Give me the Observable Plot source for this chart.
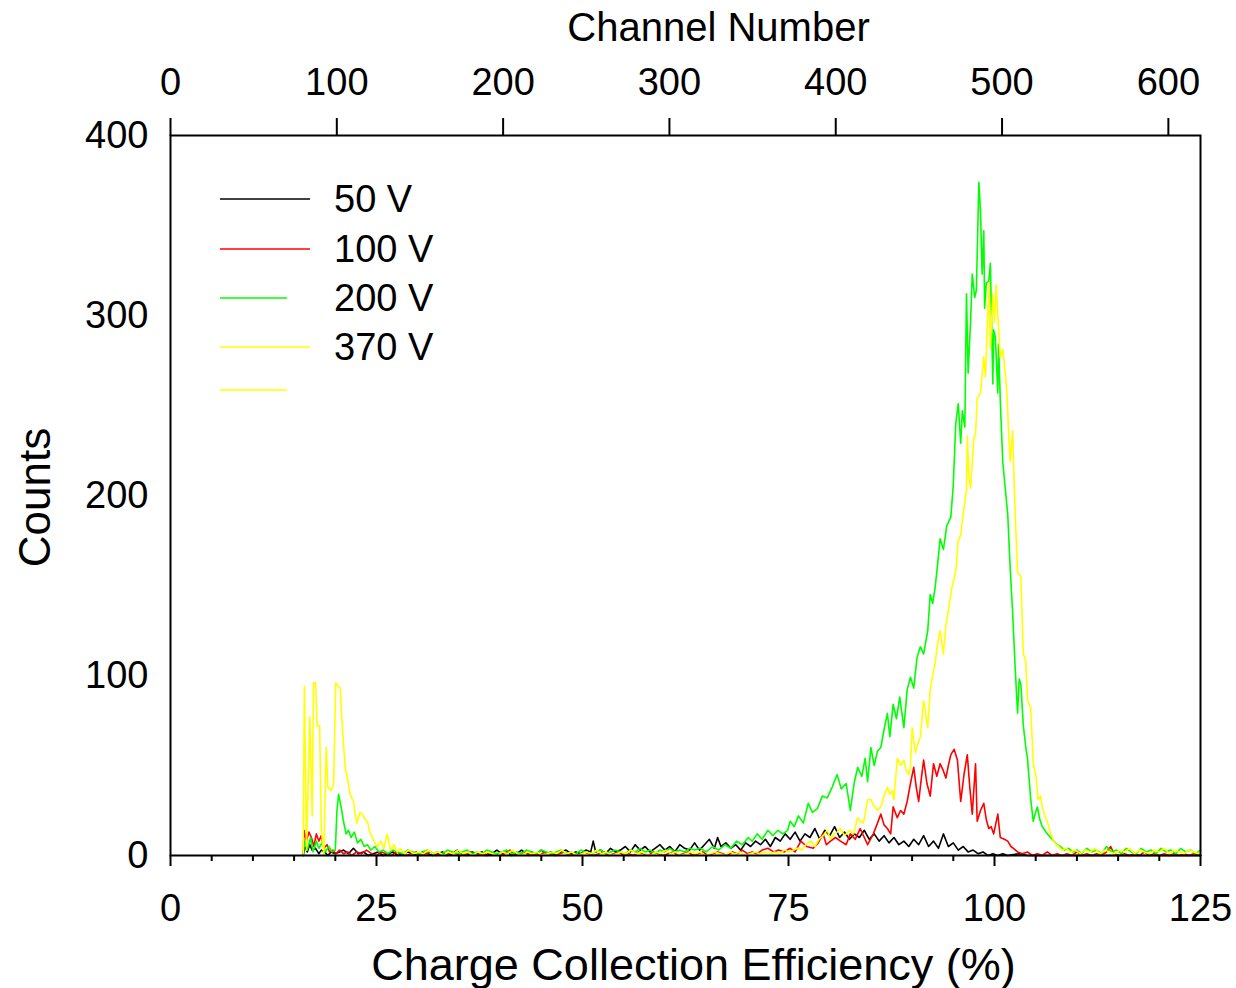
<!DOCTYPE html>
<html>
<head>
<meta charset="utf-8">
<script src="https://cdn.jsdelivr.net/npm/d3@7"></script>
<script src="https://cdn.jsdelivr.net/npm/@observablehq/plot@0.6"></script>
<style>
  html, body { margin: 0; padding: 0; background: #fff; }
  #chart { position: relative; width: 1236px; height: 988px; overflow: hidden; }
</style>
</head>
<body>
<div id="chart"></div>
<script>
// ---- data: [charge collection efficiency %, counts] ----
const series50V = [[16.1,0],[16.3,5],[16.6,2],[16.9,6],[17.2,3],[17.6,4],[18.0,1],[18.3,3],[18.7,2],[19.1,0],[19.5,2],[20.0,1],[20.5,2],[21.0,3],[21.6,1],[22.2,4],[22.8,1],[23.4,2],[24.0,0],[24.6,1],[25.2,2],[25.8,0],[26.4,1],[27.0,2],[27.6,0],[28.2,1],[28.8,2],[29.4,1],[30.0,0],[30.6,2],[31.2,1],[31.8,0],[32.4,1],[33.0,2],[33.6,0],[34.2,1],[34.8,3],[35.4,1],[36.0,0],[36.6,2],[37.2,1],[37.8,2],[38.4,0],[39.0,1],[39.6,3],[40.2,1],[40.8,2],[41.4,0],[42.0,1],[42.6,3],[43.2,1],[43.8,2],[44.4,1],[45.0,3],[45.6,1],[46.2,2],[46.8,0],[47.4,2],[48.0,3],[48.6,1],[49.2,2],[49.8,1],[50.4,3],[51.0,2],[51.3,8],[51.6,2],[52.2,3],[52.8,1],[53.4,4],[54.0,2],[54.6,3],[55.2,5],[55.8,2],[56.4,6],[57.0,3],[57.6,5],[58.2,2],[58.8,4],[59.4,6],[60.0,3],[60.6,5],[61.2,2],[61.8,6],[62.4,4],[63.0,3],[63.6,7],[64.2,3],[64.8,6],[65.4,9],[66.0,4],[66.4,10],[66.8,5],[67.4,7],[68.0,4],[68.6,6],[69.2,3],[69.8,7],[70.4,5],[71.0,8],[71.6,6],[72.2,9],[72.8,5],[73.4,10],[74.0,8],[74.6,12],[75.2,9],[75.8,13],[76.4,8],[77.0,12],[77.6,10],[78.2,15],[78.8,9],[79.4,14],[80.0,11],[80.6,16],[81.2,10],[81.8,13],[82.4,9],[83.0,12],[83.6,10],[84.2,14],[84.8,9],[85.4,12],[86.0,8],[86.6,11],[87.2,7],[87.8,10],[88.4,6],[89.0,8],[89.6,5],[90.2,9],[90.8,6],[91.4,11],[92.0,5],[92.6,8],[93.2,4],[93.8,12],[94.4,5],[95.0,7],[95.6,3],[96.2,5],[96.8,2],[97.4,3],[98.0,1],[98.6,2],[99.2,0],[99.8,1],[100.4,0],[101.0,1],[101.6,0],[103.0,1],[104.0,0],[110.0,0],[125.0,0]];

const series100V = [[16.1,0],[16.2,14],[16.5,8],[16.8,13],[17.1,10],[17.4,5],[17.7,12],[18.0,8],[18.3,11],[18.6,4],[19.0,6],[19.3,2],[19.7,3],[20.1,1],[20.5,3],[21.0,1],[21.5,2],[22.0,0],[22.6,2],[23.2,1],[23.8,3],[24.4,1],[25.0,0],[25.6,2],[26.2,1],[26.8,0],[27.4,2],[28.0,1],[28.6,0],[29.2,1],[29.8,2],[30.4,0],[31.0,1],[31.6,2],[32.2,0],[32.8,1],[33.4,0],[34.0,2],[34.6,1],[35.2,0],[35.8,1],[36.4,2],[37.0,0],[37.6,1],[38.2,0],[38.8,2],[39.4,1],[40.0,0],[40.6,1],[41.2,3],[41.8,0],[42.4,1],[43.0,2],[43.6,0],[44.2,1],[44.8,0],[45.4,2],[46.0,1],[46.6,0],[47.2,1],[47.8,2],[48.4,0],[49.0,1],[49.6,0],[50.2,2],[50.8,1],[51.4,0],[52.0,1],[52.6,2],[53.2,0],[53.8,1],[54.4,2],[55.0,0],[55.6,1],[56.2,0],[56.8,2],[57.4,1],[58.0,0],[58.6,2],[59.2,1],[59.8,0],[60.4,1],[61.0,2],[61.6,0],[62.2,1],[62.8,2],[63.4,0],[64.0,1],[64.6,2],[65.2,0],[65.8,1],[66.4,2],[67.0,1],[67.6,0],[68.2,2],[68.8,1],[69.4,3],[70.0,1],[70.6,2],[71.2,1],[71.8,3],[72.5,4],[73.2,2],[73.8,3],[74.5,2],[75.2,4],[75.8,2],[76.5,8],[77.2,5],[78.0,4],[78.6,7],[79.2,12],[79.6,6],[80.1,8],[80.7,10],[81.3,8],[82.0,6],[82.5,12],[83.1,9],[83.7,15],[84.2,10],[84.6,6],[85.3,12],[85.8,18],[86.2,23],[86.6,17],[87.0,15],[87.4,12],[87.7,27],[88.2,21],[88.6,25],[89.0,23],[89.4,30],[89.8,40],[90.2,49],[90.5,38],[90.8,30],[91.1,42],[91.4,53],[91.8,40],[92.2,33],[92.6,51],[93.0,44],[93.4,51],[93.8,47],[94.1,43],[94.4,50],[94.7,56],[95.1,59],[95.5,53],[95.9,30],[96.3,45],[96.7,56],[97.0,38],[97.3,23],[97.7,51],[97.9,19],[98.3,25],[98.7,29],[99.0,20],[99.3,15],[99.6,16],[99.9,12],[100.4,23],[100.7,10],[101.2,9],[101.6,8],[102.0,5],[102.3,4],[102.8,2],[103.4,1],[104.0,2],[104.6,0],[105.2,1],[105.8,0],[106.4,2],[107.0,0],[107.6,1],[108.2,0],[108.8,1],[109.4,0],[110.0,2],[110.6,0],[111.2,1],[111.8,0],[112.4,1],[113.0,0],[113.6,2],[114.1,5],[114.5,1],[115.2,0],[115.8,1],[116.4,0],[117.0,1],[117.6,0],[118.2,2],[118.8,0],[119.4,1],[120.0,0],[120.6,1],[121.2,0],[121.8,1],[122.4,0],[123.0,1],[123.6,0],[124.2,1],[125.0,0]];

const series200V = [[16.1,0],[16.3,8],[16.6,3],[17.0,10],[17.3,2],[17.7,8],[18.0,4],[18.4,7],[18.8,2],[19.2,5],[19.6,2],[20.0,3],[20.2,25],[20.4,34],[20.7,27],[21.0,19],[21.3,12],[21.6,14],[21.9,10],[22.3,13],[22.7,7],[23.1,9],[23.5,5],[23.9,6],[24.3,3],[24.8,5],[25.3,2],[25.8,3],[26.4,1],[27.0,3],[27.6,2],[28.2,1],[28.8,3],[29.4,2],[30.0,1],[30.6,2],[31.2,3],[31.8,1],[32.4,2],[33.0,1],[33.6,3],[34.2,2],[34.8,1],[35.4,2],[36.0,3],[36.6,1],[37.2,2],[37.8,1],[38.4,3],[39.0,2],[39.6,1],[40.2,2],[40.8,3],[41.4,1],[42.0,2],[42.6,1],[43.2,3],[43.8,2],[44.4,1],[45.0,3],[45.6,2],[46.2,1],[46.8,2],[47.4,3],[48.0,1],[48.6,2],[49.2,1],[49.8,3],[50.4,2],[51.0,1],[51.6,2],[52.2,3],[52.8,1],[53.4,2],[54.0,3],[54.6,2],[55.2,1],[55.8,3],[56.4,2],[57.0,4],[57.6,2],[58.2,3],[58.8,1],[59.4,3],[60.0,2],[60.6,4],[61.2,2],[61.8,3],[62.4,2],[63.0,4],[63.6,3],[64.3,4],[65.0,2],[65.8,5],[66.5,3],[67.3,6],[68.0,4],[68.7,8],[69.4,6],[70.1,10],[70.6,8],[71.2,12],[71.8,9],[72.5,14],[73.1,11],[73.7,14],[74.3,12],[74.9,14],[75.2,19],[75.7,16],[76.2,22],[76.8,18],[77.4,29],[77.9,24],[78.5,26],[79.1,33],[79.7,32],[80.3,38],[80.9,45],[81.4,37],[82.0,40],[82.5,25],[83.0,41],[83.4,49],[83.9,44],[84.3,54],[84.6,41],[85.0,60],[85.4,50],[85.8,58],[86.2,60],[86.6,70],[87.0,79],[87.3,66],[87.7,84],[88.1,76],[88.5,88],[89.0,71],[89.4,92],[89.8,99],[90.2,93],[90.6,110],[91.0,116],[91.4,112],[91.9,125],[92.2,145],[92.5,140],[92.8,149],[93.1,162],[93.4,176],[93.8,170],[94.2,183],[94.7,188],[95.0,206],[95.3,240],[95.6,251],[95.9,229],[96.1,247],[96.4,238],[96.6,312],[96.8,268],[97.1,297],[97.3,323],[97.6,310],[97.8,314],[98.1,374],[98.3,358],[98.5,323],[98.7,347],[98.8,304],[99.0,318],[99.3,319],[99.5,329],[99.8,262],[99.9,292],[100.1,288],[100.4,257],[100.5,284],[100.7,253],[101.0,219],[101.3,204],[101.6,190],[101.9,160],[102.2,135],[102.5,105],[102.8,79],[103.0,98],[103.2,95],[103.5,72],[103.8,60],[104.0,54],[104.4,31],[104.7,19],[105.0,24],[105.2,27],[105.5,20],[105.8,16],[106.1,14],[106.4,12],[106.8,10],[107.2,8],[107.6,6],[108.0,5],[108.5,3],[109.0,4],[109.5,2],[110.0,3],[110.6,1],[111.2,4],[111.8,2],[112.4,3],[113.0,1],[113.6,5],[114.2,2],[114.8,3],[115.4,1],[116.0,4],[116.6,2],[117.2,1],[117.8,4],[118.4,2],[119.0,3],[119.6,1],[120.2,4],[120.8,2],[121.4,3],[122.0,1],[122.6,4],[123.2,2],[123.8,3],[124.4,1],[125.0,3]];

const series370V = [[16.1,1],[16.25,94],[16.5,3],[16.9,77],[17.2,22],[17.35,96],[17.6,96],[17.8,72],[18.1,72],[18.3,15],[18.6,0],[18.9,60],[19.1,38],[19.5,36],[19.8,40],[20.05,96],[20.4,94],[20.6,93],[20.9,68],[21.2,49],[21.5,42],[21.8,34],[22.2,30],[22.6,18],[23.0,24],[23.3,23],[23.6,20],[23.9,19],[24.2,13],[24.5,10],[24.8,7],[25.1,5],[25.5,8],[25.9,4],[26.3,12],[26.7,3],[27.1,6],[27.5,2],[27.9,4],[28.4,1],[28.9,3],[29.5,1],[30.1,2],[30.7,1],[31.3,3],[31.9,1],[32.5,2],[33.1,0],[33.7,2],[34.3,1],[34.9,3],[35.5,1],[36.1,2],[36.7,0],[37.3,2],[37.9,1],[38.5,2],[39.1,1],[39.7,0],[40.3,2],[40.9,1],[41.5,3],[42.1,1],[42.7,0],[43.3,2],[43.9,1],[44.5,2],[45.1,0],[45.7,1],[46.3,2],[46.9,1],[47.5,3],[48.1,1],[48.7,2],[49.3,0],[49.9,1],[50.5,2],[51.1,1],[51.7,3],[52.3,1],[52.9,2],[53.5,0],[54.1,1],[54.7,2],[55.3,1],[55.9,3],[56.5,1],[57.1,2],[57.7,1],[58.3,0],[58.9,2],[59.5,1],[60.1,3],[60.7,1],[61.3,2],[61.9,0],[62.5,1],[63.1,2],[63.7,1],[64.3,2],[64.9,0],[65.5,1],[66.1,2],[66.7,1],[67.3,0],[67.9,2],[68.5,1],[69.1,2],[69.7,0],[70.3,1],[70.9,2],[71.5,1],[72.1,2],[72.7,1],[73.3,2],[73.9,1],[74.5,3],[75.1,2],[75.6,3],[76.1,4],[76.6,3],[77.1,6],[77.7,8],[78.2,5],[78.7,9],[79.2,11],[79.7,14],[80.1,9],[80.5,12],[80.9,13],[81.3,15],[81.8,11],[82.4,14],[82.9,12],[83.4,21],[83.7,19],[84.1,18],[84.6,31],[85.0,31],[85.3,28],[85.8,25],[86.2,27],[86.6,33],[87.0,38],[87.3,34],[87.6,36],[87.8,31],[88.2,54],[88.6,50],[89.0,53],[89.3,47],[89.6,45],[89.8,49],[90.0,71],[90.4,57],[90.7,62],[91.0,66],[91.4,86],[91.9,71],[92.2,92],[92.5,100],[92.8,107],[93.1,118],[93.4,125],[93.8,112],[94.1,128],[94.4,136],[94.8,148],[95.3,158],[95.6,175],[95.9,178],[96.2,190],[96.6,203],[96.7,233],[96.9,210],[97.1,204],[97.5,232],[97.7,234],[97.9,254],[98.3,257],[98.7,277],[98.9,266],[99.2,303],[99.3,318],[99.5,282],[99.8,312],[100.0,296],[100.2,317],[100.5,292],[100.7,277],[101.0,281],[101.2,273],[101.5,258],[101.7,236],[101.9,219],[102.2,236],[102.4,204],[102.6,180],[102.8,157],[103.2,155],[103.5,112],[103.8,108],[104.0,86],[104.4,82],[104.7,51],[105.0,45],[105.3,31],[105.6,33],[105.8,27],[106.1,22],[106.4,19],[106.8,12],[107.2,8],[107.5,6],[107.8,5],[108.2,3],[108.7,4],[109.2,2],[109.8,3],[110.4,1],[111.0,3],[111.6,2],[112.2,4],[112.8,1],[113.4,3],[114.0,2],[114.6,1],[115.2,3],[115.8,2],[116.4,4],[117.0,1],[117.6,3],[118.2,2],[118.8,1],[119.4,3],[120.0,2],[120.6,4],[121.2,1],[121.8,3],[122.4,2],[123.0,1],[123.6,3],[124.2,2],[124.8,1],[125.0,2]];

const seriesNames  = ["50 V", "100 V", "200 V", "370 V"];
const seriesColors = ["#000000", "#ff0000", "#00ff00", "#ffff00"];
const seriesData   = [series50V, series100V, series200V, series370V];

const xMajorTicks  = [0, 25, 50, 75, 100, 125];
const xMinorTicks  = [5,10,15,20,30,35,40,45,55,60,65,70,80,85,90,95,105,110,115,120];
const yTicks       = [0, 100, 200, 300, 400];
const channelTicks = [0, 100, 200, 300, 400, 500, 600];
const channelsPerPercent = 600 / 121.1;

const xTitle = "Charge Collection Efficiency (%)";
const yTitle = "Counts";
const topTitle = "Channel Number";

// ---- build table ----
const table = seriesData.flatMap((pts, i) =>
  pts.map(([x, y]) => ({ x, y, series: seriesNames[i] })));

const font = "'Liberation Sans', Arial, Helvetica, sans-serif";

const chart = Plot.plot({
  width: 1236,
  height: 988,
  marginLeft: 170,
  marginRight: 36,
  marginTop: 135,
  marginBottom: 133,
  style: { fontFamily: font, fontSize: "38px", background: "white", color: "black", overflow: "visible" },
  x: { domain: [0, 125] },
  y: { domain: [0, 400] },
  color: { domain: seriesNames, range: seriesColors },
  marks: [
    Plot.line(table, { x: "x", y: "y", z: "series", stroke: "series", strokeWidth: 1.6, curve: "linear" }),
    Plot.frame({ stroke: "black", strokeWidth: 2 }),
    Plot.axisX({ ticks: xMajorTicks, tickSize: 11, tickPadding: 28, fontSize: 38, strokeWidth: 2, label: null }),
    Plot.axisX({ ticks: xMinorTicks, tickSize: 6, text: null, strokeWidth: 2, label: null }),
    Plot.axisX({ anchor: "top", ticks: channelTicks.map(c => c / channelsPerPercent),
                 tickFormat: d => String(Math.round(d * channelsPerPercent)),
                 tickSize: 18, tickPadding: 23, fontSize: 38, strokeWidth: 2, label: null }),
    Plot.axisY({ ticks: yTicks, tickSize: 0, tickPadding: 22, fontSize: 38, label: null }),
    Plot.text([topTitle], { frameAnchor: "top", lineAnchor: "middle", textAnchor: "middle", dx: 33, dy: -107, fontSize: 40, fill: "black" }),
    Plot.text([xTitle], { frameAnchor: "bottom", lineAnchor: "middle", textAnchor: "middle", dx: 8, dy: 110, fontSize: 45, fill: "black" }),
    Plot.text([yTitle], { frameAnchor: "left", lineAnchor: "middle", textAnchor: "middle", dx: -135, dy: 2, rotate: -90, fontSize: 44, fill: "black" })
  ]
});

document.getElementById("chart").appendChild(chart);

// ---- legend ----
const legendRows = [
  { label: seriesNames[0], color: seriesColors[0], len: 90, y: 199 },
  { label: seriesNames[1], color: seriesColors[1], len: 90, y: 249 },
  { label: seriesNames[2], color: seriesColors[2], len: 67, y: 298 },
  { label: seriesNames[3], color: seriesColors[3], len: 90, y: 347 },
  { label: "",             color: seriesColors[3], len: 67, y: 390 }
];
const svg = d3.select(chart);
const lg = svg.append("g").attr("class", "legend");
legendRows.forEach(r => {
  lg.append("line").attr("x1", 220).attr("x2", 220 + r.len).attr("y1", r.y).attr("y2", r.y)
    .attr("stroke", r.color).attr("stroke-width", 1.6);
  if (r.label) {
    lg.append("text").attr("x", 334).attr("y", r.y).attr("dy", "0.35em")
      .attr("text-anchor", "start")
      .attr("font-family", font).attr("font-size", 38).attr("fill", "black").text(r.label);
  }
});
</script>
</body>
</html>
